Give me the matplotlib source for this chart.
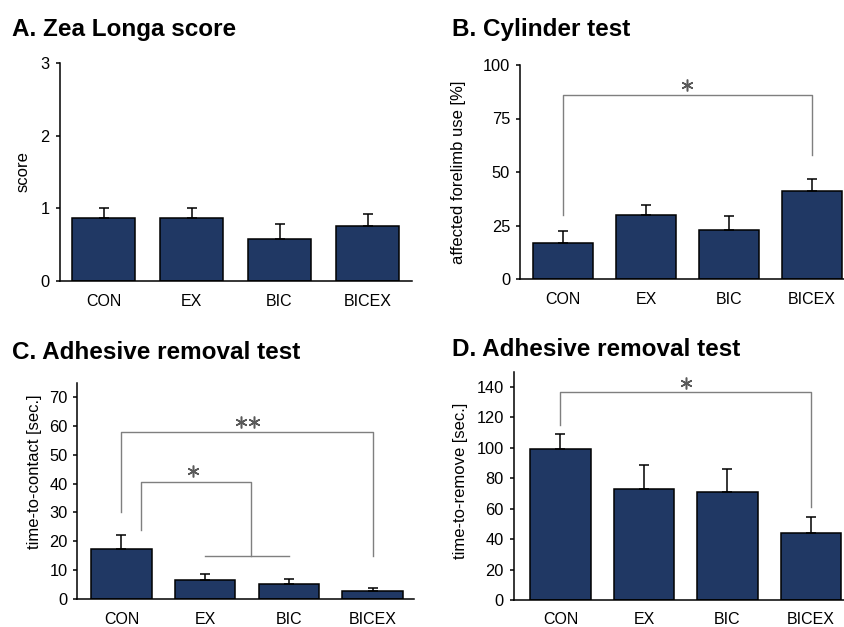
import matplotlib.pyplot as plt

plt.rcParams["font.family"] = ["Liberation Sans", "DejaVu Sans"]

W, H = 844, 627
BAR_COLOR = "#203864"
LINE_GRAY = "#7f7f7f"

groups = ["CON", "EX", "BIC", "BICEX"]

# A. Zea Longa score
zea_mean = [0.87, 0.87, 0.58, 0.76]
zea_err = [0.13, 0.13, 0.20, 0.16]

# B. Cylinder test
cyl_mean = [17.0, 30.0, 23.0, 41.3]
cyl_err = [5.5, 4.8, 6.5, 5.6]

# C. Adhesive removal, time-to-contact
contact_mean = [17.5, 6.5, 5.3, 2.9]
contact_err = [4.8, 2.3, 1.8, 0.9]

# D. Adhesive removal, time-to-remove
remove_mean = [99.0, 73.0, 70.8, 44.0]
remove_err = [10.0, 15.5, 15.0, 10.3]


def px_rect(left, right, top, bottom):
    return [left / W, 1 - bottom / H, (right - left) / W, (bottom - top) / H]


def bar_panel(ax, means, errs, ylim, yticks, xlim):
    x = range(len(groups))
    ax.bar(x, means, width=0.72, color=BAR_COLOR, edgecolor="black",
           linewidth=1.1, zorder=2)
    ax.errorbar(x, means, yerr=[[0] * len(errs), errs], fmt="none",
                ecolor="black", elinewidth=1.1, capsize=3.5, capthick=1.1,
                zorder=3)
    ax.set_xlim(*xlim)
    ax.set_ylim(*ylim)
    ax.set_yticks(yticks)
    ax.set_xticks(list(x))
    ax.set_xticklabels(groups)
    for side in ("top", "right"):
        ax.spines[side].set_visible(False)
    for side in ("left", "bottom"):
        ax.spines[side].set_linewidth(1.1)
    ax.tick_params(axis="x", length=0, pad=9, labelsize=11.5)
    ax.tick_params(axis="y", direction="out", length=3, width=1.1, pad=4,
                   labelsize=11.8)


def bracket(ax, x0, x1, top, y0, y1):
    ax.plot([x0, x0, x1, x1], [y0, top, top, y1], color=LINE_GRAY,
            linewidth=1.0, clip_on=False, zorder=4)


def stars(ax, xc, y, n, dx):
    offs = [0.0] if n == 1 else [-dx, dx]
    for o in offs:
        ax.plot([xc + o], [y], marker=(6, 2, 0), markersize=8.5,
                markeredgewidth=1.1, color="#5a5a5a", clip_on=False)


fig = plt.figure(figsize=(W / 100, H / 100), dpi=100)

TITLE_SIZE = 17.5
YLAB_SIZE = 12

# A
axA = fig.add_axes(px_rect(59.5, 411.5, 63, 281))
bar_panel(axA, zea_mean, zea_err, (0, 3), [0, 1, 2, 3], (-0.5, 3.5))
fig.text(12 / W, 1 - 36 / H, "A. Zea Longa score", fontsize=TITLE_SIZE,
         fontweight="bold", ha="left", va="baseline")
fig.text(23 / W, 1 - 172 / H, "score", rotation=90, fontsize=YLAB_SIZE,
         ha="center", va="center")

# B
axB = fig.add_axes(px_rect(519.8, 853.5, 65, 279))
bar_panel(axB, cyl_mean, cyl_err, (0, 100), [0, 25, 50, 75, 100], (-0.52, 3.5))
bracket(axB, 0, 3, 86, 30, 58)
stars(axB, 1.5, 90.6, 1, 0)
fig.text(452 / W, 1 - 36 / H, "B. Cylinder test", fontsize=TITLE_SIZE,
         fontweight="bold", ha="left", va="baseline")
fig.text(458 / W, 1 - 172 / H, "affected forelimb use [%]", rotation=90,
         fontsize=YLAB_SIZE, ha="center", va="center")

# C
axC = fig.add_axes(px_rect(77.1, 414.5, 382.6, 599))
bar_panel(axC, contact_mean, contact_err, (0, 75), list(range(0, 71, 10)),
          (-0.53, 3.5))
bracket(axC, 0, 3, 58, 30, 15)
bracket(axC, 0.23, 1.55, 40.5, 24, 15)
axC.plot([1, 2], [15, 15], color=LINE_GRAY, linewidth=1.0, zorder=4)
stars(axC, 1.5, 61.5, 2, 0.078)
stars(axC, 0.86, 44.5, 1, 0)
fig.text(12 / W, 1 - 359 / H, "C. Adhesive removal test", fontsize=TITLE_SIZE,
         fontweight="bold", ha="left", va="baseline")
fig.text(35 / W, 1 - 472 / H, "time-to-contact [sec.]", rotation=90,
         fontsize=YLAB_SIZE, ha="center", va="center")

# D
axD = fig.add_axes(px_rect(513.7, 852.75, 371.8, 600))
bar_panel(axD, remove_mean, remove_err, (0, 150), list(range(0, 141, 20)),
          (-0.56, 3.5))
bracket(axD, 0, 3, 137, 115, 61)
stars(axD, 1.5, 142.5, 1, 0)
fig.text(452 / W, 1 - 356 / H, "D. Adhesive removal test", fontsize=TITLE_SIZE,
         fontweight="bold", ha="left", va="baseline")
fig.text(461 / W, 1 - 481 / H, "time-to-remove [sec.]", rotation=90,
         fontsize=YLAB_SIZE, ha="center", va="center")

fig.savefig("out.png", dpi=100)
